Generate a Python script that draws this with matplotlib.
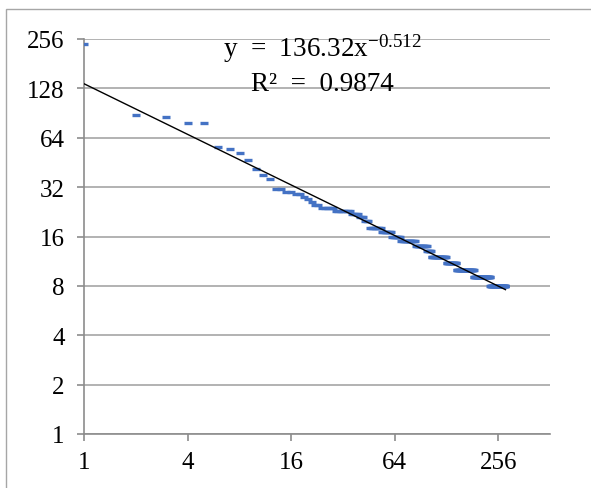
import matplotlib.pyplot as plt
import numpy as np
from matplotlib.patches import Rectangle
from matplotlib.ticker import FixedLocator, FixedFormatter, NullLocator

# rank-frequency data: each frequency level and how many ranks share it
freq_levels = [240, 88, 86, 79, 56, 55, 52, 47, 41, 38, 36, 31, 30, 29, 28, 27,
               26, 25, 24, 23, 22, 21, 20, 18, 17, 16, 15, 14, 13, 12, 11, 10, 9, 8]
rank_counts = [1, 1, 1, 2, 1, 1, 1, 1, 1, 1, 1, 2, 2, 2, 1, 1,
               1, 2, 5, 7, 4, 3, 3, 8, 8, 8, 15, 14, 6, 23, 19, 38, 45, 53]

x_ticks = [1, 4, 16, 64, 256]
y_ticks = [1, 2, 4, 8, 16, 32, 64, 128, 256]

fit_coef = 136.32
fit_exp = -0.512
r_squared = 0.9874

freqs = np.repeat(freq_levels, rank_counts)
ranks = np.arange(1, len(freqs) + 1)

plt.rcParams['font.family'] = ['Liberation Serif', 'DejaVu Serif']

fig = plt.figure(figsize=(5.91, 4.89), dpi=100)
W, H = 591, 489

# chart area border (left and top visible)
fig.patches.append(Rectangle((6 / W, -0.1), 2, (H - 10) / H + 0.1,
                             transform=fig.transFigure, fill=False,
                             edgecolor='#a6a6a6', linewidth=1))

ax = fig.add_axes([84.3 / W, 54 / H, (550 - 84.3) / W, 395 / H])
ax.set_xscale('log', base=2)
ax.set_yscale('log', base=2)
ax.set_xlim(1, 512)
ax.set_ylim(1, 256)

ax.plot(ranks, freqs, linestyle='none', marker='_', markersize=6.2,
        markeredgewidth=2.4, color='#4472C4', zorder=3)

fit_x = np.array([ranks.min(), ranks.max()], dtype=float)
ax.plot(fit_x, fit_coef * fit_x ** fit_exp, color='black', linewidth=1.0, zorder=4)

ax.xaxis.set_major_locator(FixedLocator(x_ticks))
ax.xaxis.set_major_formatter(FixedFormatter([str(t) for t in x_ticks]))
ax.yaxis.set_major_locator(FixedLocator(y_ticks))
ax.yaxis.set_major_formatter(FixedFormatter([str(t) for t in y_ticks]))
ax.xaxis.set_minor_locator(NullLocator())
ax.yaxis.set_minor_locator(NullLocator())

ax.grid(axis='y', color='#a6a6a6', linewidth=1.2)
ax.set_axisbelow(True)
for side in ['top', 'right']:
    ax.spines[side].set_visible(False)
for side in ['left', 'bottom']:
    ax.spines[side].set_color('#8c8c8c')
    ax.spines[side].set_linewidth(1.2)
ax.tick_params(axis='both', direction='out', length=5, width=1.2,
               color='#8c8c8c', labelsize=18, labelcolor='black')
ax.tick_params(axis='y', pad=9)
ax.tick_params(axis='x', pad=7)

eq1 = r'y  =  %.2fx$\mathregular{^{%.3f}}$' % (fit_coef, fit_exp)
eq2 = 'R²  =  %.4f' % r_squared
fig.text(322 / W, 1 - 57 / H, eq1, ha='center', va='baseline', fontsize=19.5)
fig.text(322 / W, 1 - 91 / H, eq2, ha='center', va='baseline', fontsize=19.5)

fig.savefig('out.png', dpi=100)
